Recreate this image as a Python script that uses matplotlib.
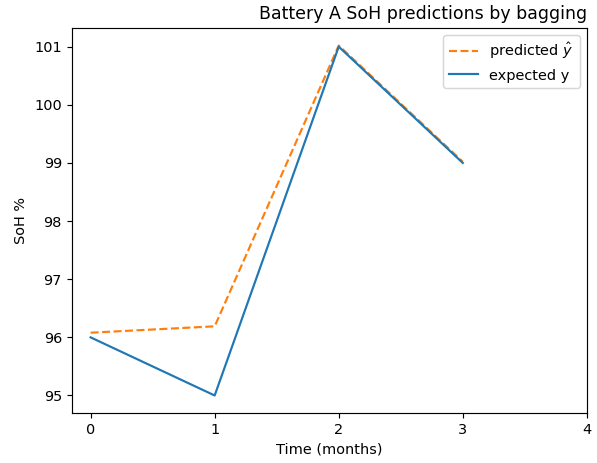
import matplotlib
matplotlib.use("Agg")
import matplotlib.pyplot as plt

months = [0, 1, 2, 3]
predicted = [96.08, 96.19, 101.02, 99.02]
expected = [96, 95, 101, 99]
xticks = [0, 1, 2, 3, 4]

fig, ax = plt.subplots(figsize=(597 / 104, 463 / 104), dpi=104)
ax.plot(months, predicted, color='tab:orange', linestyle='--', label=r'predicted $\hat{y}$')
ax.plot(months, expected, color='tab:blue', label='expected y')
ax.set_xticks(xticks)
ax.set_xlim(-0.15, 4.0)
ax.set_xlabel('Time (months)')
ax.set_ylabel('SoH %')
ax.set_title('Battery A SoH predictions by bagging', loc='right')
ax.legend(loc='upper right')
fig.subplots_adjust(left=0.1206, right=0.983, top=0.9395, bottom=0.108)
fig.savefig('out.png', dpi=104)
